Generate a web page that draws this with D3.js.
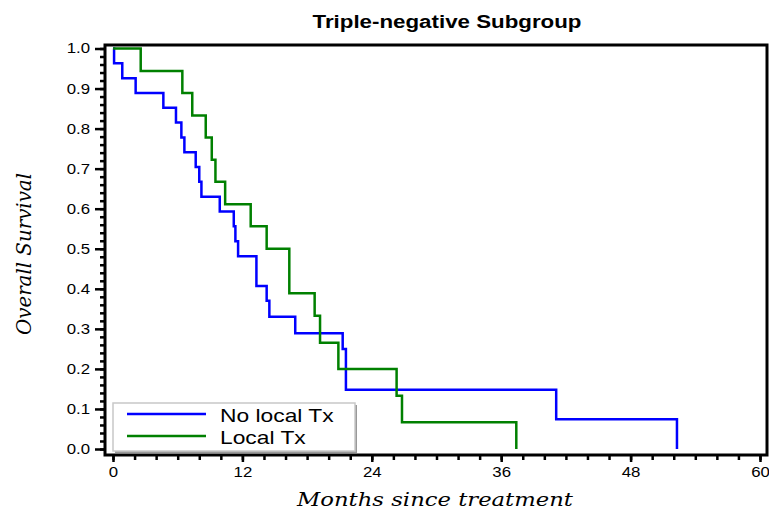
<!DOCTYPE html>
<html>
<head>
<meta charset="utf-8">
<script src="https://cdn.jsdelivr.net/npm/d3@7"></script>
<style>
  body { margin: 0; background: #fff; }
  svg { display: block; }
</style>
</head>
<body>
<div id="chart"></div>
<script>
// survival data (months, survival after the drop)
var noLocalTimes = [0, 0.1, 0.86, 2.1, 4.67, 5.84, 6.34, 6.62, 7.67, 8.0, 8.2, 9.9, 11.2, 11.35, 11.6, 13.3, 14.25, 14.5, 16.9, 21.3, 21.6, 41.1, 52.3];
var noLocalSurv  = [1.0, 0.963, 0.926, 0.889, 0.852, 0.815, 0.778, 0.741, 0.704, 0.667, 0.630, 0.593, 0.556, 0.519, 0.481, 0.407, 0.370, 0.330, 0.289, 0.250, 0.148, 0.074, 0.0];

var localTimes = [0, 2.57, 6.43, 7.35, 8.6, 9.16, 9.5, 10.4, 12.77, 14.25, 16.35, 18.7, 19.2, 20.9, 26.3, 26.8, 37.4];
var localSurv  = [1.0, 0.944, 0.889, 0.833, 0.778, 0.722, 0.667, 0.611, 0.556, 0.500, 0.389, 0.333, 0.265, 0.200, 0.133, 0.067, 0.0];

var xTicks = [0, 12, 24, 36, 48, 60];
var yTicks = [0, 0.1, 0.2, 0.3, 0.4, 0.5, 0.6, 0.7, 0.8, 0.9, 1.0];
var seriesNames = ['No local Tx', 'Local Tx'];

var w = 769;
var h = 510;
var frame = {left: 105, top: 45, right: 767, bottom: 455};
var stretchX = 1.2;  // the picture is a bit wide, text gets stretched too

const svg = d3.select('#chart')
  .append('svg')
  .attr('width', w)
  .attr('height', h);

var xScale = d3.scaleLinear().domain([0, 60]).range([113, 760]);
var yScale = d3.scaleLinear().domain([0, 1]).range([449, 48.5]);

function stretch(sel) {
  sel.each(function() {
    var len = this.getComputedTextLength();
    d3.select(this).attr('textLength', len * stretchX).attr('lengthAdjust', 'spacingAndGlyphs');
  });
}

// minor ticks
svg.append('g')
  .attr('transform', 'translate(' + frame.left + ',0)')
  .call(d3.axisLeft(yScale).tickValues(d3.range(0, 1.001, 0.02)).tickSize(5).tickFormat(''))
  .call(g => g.select('.domain').remove())
  .selectAll('line').attr('stroke-width', 2.5);

svg.append('g')
  .attr('transform', 'translate(0,' + frame.bottom + ')')
  .call(d3.axisBottom(xScale).tickValues(d3.range(0, 61, 2)).tickSize(5).tickFormat(''))
  .call(g => g.select('.domain').remove())
  .selectAll('line').attr('stroke-width', 2.5);

// major ticks
var yAxisGroup = svg.append('g')
  .attr('transform', 'translate(' + frame.left + ',0)')
  .call(d3.axisLeft(yScale).tickValues(yTicks).tickSize(10).tickPadding(5).tickFormat(d3.format('.1f')))
  .call(g => g.select('.domain').remove());
yAxisGroup.selectAll('line').attr('stroke-width', 2.5);
yAxisGroup.selectAll('text')
  .attr('font-family', '"Liberation Sans", Arial, sans-serif')
  .attr('font-size', 14)
  .attr('fill', '#000')
  .call(stretch);

var xAxisGroup = svg.append('g')
  .attr('transform', 'translate(0,' + frame.bottom + ')')
  .call(d3.axisBottom(xScale).tickValues(xTicks).tickSize(7).tickPadding(5))
  .call(g => g.select('.domain').remove());
xAxisGroup.selectAll('line').attr('stroke-width', 2.5);
xAxisGroup.selectAll('text')
  .attr('font-family', '"Liberation Sans", Arial, sans-serif')
  .attr('font-size', 14)
  .attr('fill', '#000')
  .call(stretch);

// frame
svg.append('rect')
  .attr('x', frame.left)
  .attr('y', frame.top)
  .attr('width', frame.right - frame.left)
  .attr('height', frame.bottom - frame.top)
  .attr('fill', 'none')
  .attr('stroke', '#000')
  .attr('stroke-width', 3);

// curves
var line = d3.line()
  .x(d => xScale(d[0]))
  .y(d => yScale(d[1]))
  .curve(d3.curveStepAfter);

var noLocalPts = noLocalTimes.map((t, i) => [t, noLocalSurv[i]]);
var localPts = localTimes.map((t, i) => [t, localSurv[i]]);

svg.append('path')
  .datum(noLocalPts)
  .attr('d', line)
  .attr('fill', 'none')
  .attr('stroke', '#0000ff')
  .attr('stroke-width', 2.5);

svg.append('path')
  .datum(localPts)
  .attr('d', line)
  .attr('fill', 'none')
  .attr('stroke', '#008000')
  .attr('stroke-width', 2.5);

// legend
var legend = svg.append('g');
legend.append('rect')
  .attr('x', 115).attr('y', 405).attr('width', 242).attr('height', 48)
  .attr('fill', '#999');
legend.append('rect')
  .attr('x', 113).attr('y', 403).attr('width', 242).attr('height', 48)
  .attr('fill', '#fff').attr('stroke', '#c8c8c8').attr('stroke-width', 1.5);

var legendColors = ['#0000ff', '#008000'];
var legendY = [414, 436];
seriesNames.forEach(function(name, i) {
  legend.append('line')
    .attr('x1', 127).attr('x2', 206)
    .attr('y1', legendY[i]).attr('y2', legendY[i])
    .attr('stroke', legendColors[i]).attr('stroke-width', 2.5);
  legend.append('text')
    .attr('x', 220).attr('y', legendY[i] + 8)
    .attr('font-family', '"Liberation Sans", Arial, sans-serif')
    .attr('font-size', 19)
    .attr('fill', '#000')
    .text(name)
    .call(stretch);
});

// titles
svg.append('text')
  .attr('x', 447).attr('y', 28)
  .attr('text-anchor', 'middle')
  .attr('font-family', '"Liberation Sans", Arial, sans-serif')
  .attr('font-weight', 'bold')
  .attr('font-size', 18)
  .attr('textLength', 269).attr('lengthAdjust', 'spacingAndGlyphs')
  .text('Triple-negative  Subgroup');

svg.append('text')
  .attr('x', 435).attr('y', 506)
  .attr('text-anchor', 'middle')
  .attr('font-family', '"DejaVu Serif", serif')
  .attr('font-style', 'italic')
  .attr('font-size', 19)
  .attr('textLength', 276).attr('lengthAdjust', 'spacingAndGlyphs')
  .text('Months  since  treatment');

svg.append('text')
  .attr('transform', 'translate(31,254) rotate(-90)')
  .attr('text-anchor', 'middle')
  .attr('font-family', '"DejaVu Serif", serif')
  .attr('font-style', 'italic')
  .attr('font-size', 20)
  .attr('textLength', 162).attr('lengthAdjust', 'spacingAndGlyphs')
  .text('Overall  Survival');
</script>
</body>
</html>
